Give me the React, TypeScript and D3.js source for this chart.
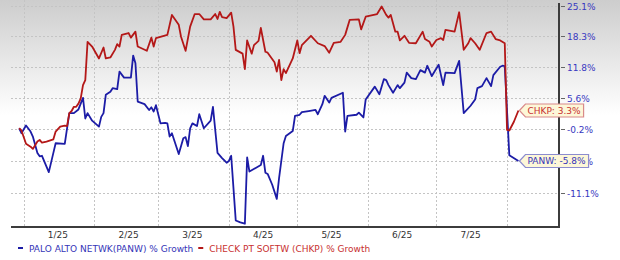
import React, { useRef, useEffect } from "react";
import * as d3 from "d3";

// % growth readings, PALO ALTO NETWK (PANW)
const panwSeries: [string, number][] = [
  ["2024-12-30", 0.0], ["2024-12-31", -0.9], ["2025-01-02", 0.5], ["2025-01-04", -0.6],
  ["2025-01-05", -1.5], ["2025-01-07", -4.4], ["2025-01-08", -5.0], ["2025-01-09", -4.9],
  ["2025-01-12", -7.7], ["2025-01-14", -4.4], ["2025-01-15", -2.7], ["2025-01-19", -2.8],
  ["2025-01-21", 2.8], ["2025-01-23", 2.8], ["2025-01-25", 3.5], ["2025-01-27", 5.7],
  ["2025-01-28", 1.8], ["2025-01-29", 2.8], ["2025-01-31", 1.4], ["2025-02-03", 0.3],
  ["2025-02-04", 2.1], ["2025-02-05", 2.8], ["2025-02-06", 6.3], ["2025-02-08", 6.9],
  ["2025-02-09", 7.6], ["2025-02-11", 7.4], ["2025-02-12", 10.9], ["2025-02-14", 9.7],
  ["2025-02-17", 9.7], ["2025-02-18", 14.2], ["2025-02-19", 12.6], ["2025-02-20", 5.0],
  ["2025-02-23", 4.5], ["2025-02-25", 3.4], ["2025-02-26", 3.9], ["2025-02-27", 3.1],
  ["2025-02-28", 4.3], ["2025-03-02", 0.9], ["2025-03-04", 1.0], ["2025-03-05", 0.9],
  ["2025-03-06", -1.5], ["2025-03-07", -0.9], ["2025-03-10", -4.6], ["2025-03-12", -1.8],
  ["2025-03-13", -1.6], ["2025-03-14", -3.2], ["2025-03-15", 0.0], ["2025-03-16", 0.9],
  ["2025-03-18", 0.4], ["2025-03-19", 2.6], ["2025-03-21", 0.0], ["2025-03-24", 1.4],
  ["2025-03-25", 4.0], ["2025-03-27", -4.4], ["2025-03-29", -5.3], ["2025-03-31", -6.1],
  ["2025-04-01", -5.8], ["2025-04-02", -4.9], ["2025-04-04", -15.5], ["2025-04-06", -15.8],
  ["2025-04-08", -16.0], ["2025-04-09", -5.2], ["2025-04-10", -7.6], ["2025-04-15", -6.5],
  ["2025-04-16", -4.9], ["2025-04-17", -7.8], ["2025-04-18", -8.0], ["2025-04-20", -9.8],
  ["2025-04-22", -12.1], ["2025-04-23", -8.7], ["2025-04-25", -2.7], ["2025-04-26", -1.4],
  ["2025-04-29", -0.5], ["2025-04-30", 2.3], ["2025-05-02", 2.5], ["2025-05-03", 3.0],
  ["2025-05-06", 3.2], ["2025-05-09", 3.4], ["2025-05-10", 2.6], ["2025-05-12", 4.5],
  ["2025-05-13", 6.1], ["2025-05-15", 4.8], ["2025-05-16", 5.7], ["2025-05-21", 6.7],
  ["2025-05-22", -0.6], ["2025-05-23", 2.3], ["2025-05-27", 2.5], ["2025-05-28", 2.9],
  ["2025-05-30", 2.0], ["2025-05-31", 5.4], ["2025-06-04", 7.9], ["2025-06-06", 6.4],
  ["2025-06-08", 9.4], ["2025-06-09", 9.2], ["2025-06-10", 8.2], ["2025-06-12", 6.7],
  ["2025-06-14", 8.2], ["2025-06-15", 7.6], ["2025-06-17", 8.7], ["2025-06-18", 10.7],
  ["2025-06-20", 9.6], ["2025-06-22", 9.4], ["2025-06-24", 11.2], ["2025-06-26", 10.7],
  ["2025-06-27", 12.1], ["2025-06-29", 10.0], ["2025-07-02", 12.3], ["2025-07-04", 8.2],
  ["2025-07-05", 10.7], ["2025-07-09", 10.6], ["2025-07-11", 13.1], ["2025-07-13", 2.8],
  ["2025-07-16", 4.2], ["2025-07-18", 5.4], ["2025-07-19", 7.6], ["2025-07-21", 8.0],
  ["2025-07-23", 9.6], ["2025-07-25", 8.0], ["2025-07-26", 10.2], ["2025-07-29", 11.9],
  ["2025-07-30", 12.1], ["2025-07-31", 12.0], ["2025-08-02", -4.8], ["2025-08-06", -5.8],
];

// % growth readings, CHECK PT SOFTW (CHKP)
const chkpSeries: [string, number][] = [
  ["2024-12-30", 0.0], ["2024-12-31", -0.4], ["2025-01-02", -2.8], ["2025-01-04", -3.3],
  ["2025-01-05", -3.7], ["2025-01-07", -2.4], ["2025-01-08", -2.1], ["2025-01-09", -2.6],
  ["2025-01-11", -2.4], ["2025-01-14", -2.0], ["2025-01-15", -0.6], ["2025-01-17", 0.3],
  ["2025-01-19", 0.5], ["2025-01-20", 0.4], ["2025-01-21", 2.8], ["2025-01-22", 3.2],
  ["2025-01-23", 4.0], ["2025-01-24", 4.0], ["2025-01-25", 4.6], ["2025-01-26", 5.6],
  ["2025-01-27", 8.2], ["2025-01-28", 9.2], ["2025-01-29", 17.1], ["2025-01-31", 16.1],
  ["2025-02-03", 13.6], ["2025-02-05", 15.9], ["2025-02-06", 13.6], ["2025-02-08", 13.8],
  ["2025-02-10", 15.4], ["2025-02-11", 16.6], ["2025-02-12", 16.1], ["2025-02-13", 18.6],
  ["2025-02-16", 19.0], ["2025-02-17", 18.0], ["2025-02-19", 19.3], ["2025-02-20", 16.1],
  ["2025-02-24", 15.2], ["2025-02-26", 18.0], ["2025-02-27", 16.1], ["2025-02-28", 17.9],
  ["2025-03-05", 18.6], ["2025-03-07", 23.0], ["2025-03-10", 20.8], ["2025-03-11", 18.2],
  ["2025-03-13", 15.2], ["2025-03-15", 20.4], ["2025-03-17", 23.2], ["2025-03-19", 23.2],
  ["2025-03-21", 22.0], ["2025-03-24", 22.0], ["2025-03-26", 23.2], ["2025-03-27", 22.1],
  ["2025-03-28", 23.7], ["2025-03-29", 22.5], ["2025-03-31", 22.3], ["2025-04-02", 23.5],
  ["2025-04-03", 20.4], ["2025-04-04", 15.4], ["2025-04-07", 14.6], ["2025-04-08", 11.4],
  ["2025-04-09", 17.4], ["2025-04-11", 14.6], ["2025-04-12", 16.4], ["2025-04-14", 17.3],
  ["2025-04-15", 20.1], ["2025-04-17", 15.0], ["2025-04-18", 14.8], ["2025-04-21", 12.8],
  ["2025-04-22", 10.9], ["2025-04-23", 13.3], ["2025-04-24", 9.2], ["2025-04-25", 11.4],
  ["2025-04-26", 10.6], ["2025-04-29", 13.6], ["2025-05-01", 17.4], ["2025-05-02", 14.7],
  ["2025-05-03", 16.4], ["2025-05-07", 18.4], ["2025-05-10", 16.8], ["2025-05-13", 16.2],
  ["2025-05-15", 14.8], ["2025-05-17", 16.9], ["2025-05-20", 17.1], ["2025-05-22", 18.6],
  ["2025-05-24", 21.9], ["2025-05-28", 22.0], ["2025-05-29", 19.8], ["2025-05-31", 22.6],
  ["2025-06-05", 23.2], ["2025-06-07", 24.9], ["2025-06-09", 23.0], ["2025-06-10", 22.4],
  ["2025-06-11", 23.0], ["2025-06-13", 19.3], ["2025-06-14", 19.3], ["2025-06-15", 17.4],
  ["2025-06-17", 18.4], ["2025-06-19", 16.9], ["2025-06-22", 16.8], ["2025-06-25", 19.3],
  ["2025-06-26", 17.7], ["2025-06-28", 17.1], ["2025-06-29", 16.1], ["2025-07-01", 17.5],
  ["2025-07-03", 17.9], ["2025-07-04", 17.5], ["2025-07-05", 19.7], ["2025-07-09", 19.3],
  ["2025-07-11", 23.6], ["2025-07-13", 15.4], ["2025-07-15", 16.8], ["2025-07-16", 17.9],
  ["2025-07-18", 16.8], ["2025-07-20", 15.4], ["2025-07-23", 19.0], ["2025-07-25", 19.3],
  ["2025-07-27", 17.7], ["2025-07-29", 17.4], ["2025-07-31", 16.8], ["2025-08-01", -0.3],
  ["2025-08-02", -0.4], ["2025-08-04", 1.2], ["2025-08-06", 3.3],
];

const yTickValues = [25.1, 18.3, 11.8, 5.6, -0.2, -5.8, -11.1];
const monthLabels = ["1/25", "2/25", "3/25", "4/25", "5/25", "6/25", "7/25"];

const seriesInfo = [
  { key: "PANW", legend: "PALO ALTO NETWK(PANW) % Growth", data: panwSeries, line: "#1c1ca6", text: "#3535b8", border: "#8c8ccf" },
  { key: "CHKP", legend: "CHECK PT SOFTW (CHKP) % Growth", data: chkpSeries, line: "#b41818", text: "#c83030", border: "#d98a8a" },
];

export default function App() {
  const svgRef = useRef<SVGSVGElement>(null);

  useEffect(() => {
    if (!svgRef.current) return;
    const svg = d3.select(svgRef.current);
    svg.selectAll("*").remove();

    const width = 620;
    const height = 260;
    const left = 11;
    const right = 559;
    const bottom = 227;
    const font = "'DejaVu Sans', Verdana, sans-serif";
    const parse = d3.timeParse("%Y-%m-%d");

    const x = d3
      .scaleTime()
      .domain([new Date(2024, 11, 26, 10), new Date(2025, 7, 23, 19)])
      .range([left, right]);
    // log scale on growth ratio, like the source chart
    const y = d3.scaleLog().domain([0.835, 1.264]).range([bottom, 0]);
    const yv = (v: number) => y(1 + v / 100);

    // Background gradient
    const defs = svg.append("defs");
    const grad = defs
      .append("linearGradient")
      .attr("id", "bgGrad")
      .attr("x1", 0).attr("y1", 0).attr("x2", 0).attr("y2", 1);
    grad.append("stop").attr("offset", "0%").attr("stop-color", "#cdcdcd");
    grad.append("stop").attr("offset", "100%").attr("stop-color", "#ffffff");
    svg.append("rect").attr("width", width).attr("height", height).attr("fill", "#fff");
    svg.append("rect").attr("width", width).attr("height", 115).attr("fill", "url(#bgGrad)");

    // Grid
    const months = d3.timeMonth.range(new Date(2025, 0, 1), new Date(2025, 7, 2));
    svg.append("g")
      .selectAll("line")
      .data(months)
      .enter()
      .append("line")
      .attr("x1", (d) => Math.round(x(d)) + 0.5)
      .attr("x2", (d) => Math.round(x(d)) + 0.5)
      .attr("y1", 0)
      .attr("y2", bottom)
      .attr("stroke", "#c4c4c4")
      .attr("stroke-dasharray", "2,2");

    svg.append("g")
      .selectAll("line")
      .data(yTickValues)
      .enter()
      .append("line")
      .attr("x1", left)
      .attr("x2", right)
      .attr("y1", (d) => Math.round(yv(d)) + 0.5)
      .attr("y2", (d) => Math.round(yv(d)) + 0.5)
      .attr("stroke", "#c4c4c4")
      .attr("stroke-dasharray", "2,2");

    // Lines
    const line = d3
      .line<[string, number]>()
      .x((d) => x(parse(d[0]) as Date))
      .y((d) => yv(d[1]));

    seriesInfo.forEach((s) => {
      svg.append("path")
        .datum(s.data)
        .attr("fill", "none")
        .attr("stroke", s.line)
        .attr("stroke-width", 1.8)
        .attr("stroke-linejoin", "round")
        .attr("d", line);
    });

    // Axes
    svg.append("line")
      .attr("x1", left).attr("x2", right + 1)
      .attr("y1", bottom).attr("y2", bottom)
      .attr("stroke", "#3c3c3c").attr("stroke-width", 2);
    svg.append("line")
      .attr("x1", right).attr("x2", right)
      .attr("y1", 3).attr("y2", bottom + 1)
      .attr("stroke", "#3c3c3c").attr("stroke-width", 2);

    const yAxis = svg.append("g");
    yTickValues.forEach((v) => {
      const ty = Math.round(yv(v)) + 0.5;
      yAxis.append("line")
        .attr("x1", right + 2).attr("x2", right + 6)
        .attr("y1", ty).attr("y2", ty)
        .attr("stroke", "#666");
      yAxis.append("text")
        .attr("x", right + 8)
        .attr("y", ty)
        .attr("dy", "0.35em")
        .attr("fill", "#3838c0")
        .attr("font-size", "9px")
        .attr("font-family", font)
        .text(`${v.toFixed(1)}%`);
    });

    // Month labels at mid-month
    monthLabels.forEach((lab, i) => {
      svg.append("text")
        .attr("x", x(new Date(2025, i, 16)))
        .attr("y", 238)
        .attr("text-anchor", "middle")
        .attr("fill", "#333")
        .attr("font-size", "9px")
        .attr("font-family", font)
        .text(lab);
    });

    // End value tags
    seriesInfo.forEach((s) => {
      const last = s.data[s.data.length - 1];
      const lx = x(parse(last[0]) as Date) + 1;
      const ly = yv(last[1]);
      const g = svg.append("g");
      const poly = g.append("path");
      const t = g.append("text")
        .attr("x", lx + 8)
        .attr("y", ly)
        .attr("dy", "0.35em")
        .attr("fill", s.text)
        .attr("font-size", "9px")
        .attr("font-family", font)
        .text(`${s.key}: ${last[1].toFixed(1)}%`);
      const tw = (t.node() as SVGTextElement).getComputedTextLength();
      const bl = lx + 6;
      const br = lx + 11 + tw;
      const top = ly - 6.5;
      const bot = ly + 6.5;
      poly
        .attr("d", `M${lx},${ly} L${bl},${top} L${br},${top} L${br},${bot} L${bl},${bot} Z`)
        .attr("fill", "#fdf7d8")
        .attr("stroke", s.border)
        .attr("stroke-width", 1.2);
    });

    // Legend
    let lx = 18;
    seriesInfo.forEach((s) => {
      svg.append("line")
        .attr("x1", lx).attr("x2", lx + 5)
        .attr("y1", 248).attr("y2", 248)
        .attr("stroke", s.line).attr("stroke-width", 2);
      const t = svg.append("text")
        .attr("x", lx + 11)
        .attr("y", 251.5)
        .attr("fill", s.text)
        .attr("font-size", "9px")
        .attr("font-family", font)
        .text(s.legend);
      lx += 11 + (t.node() as SVGTextElement).getComputedTextLength() + 5;
    });
  }, []);

  return (
    <svg
      ref={svgRef}
      width={620}
      height={260}
      viewBox="0 0 620 260"
      style={{ position: "absolute", left: 0, top: 0, display: "block" }}
    />
  );
}
